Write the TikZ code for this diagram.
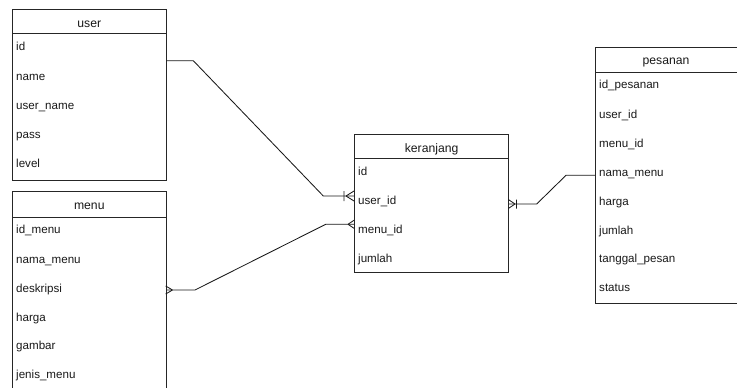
\documentclass[tikz,border=0pt]{standalone}
\usepackage{fontspec}
\setmainfont{Liberation Sans}
\begin{document}
\begin{tikzpicture}[x=1pt,y=-1pt,
  tbl/.style={draw=black!85, line width=0.9pt, inner sep=0pt, anchor=north west},
  hdr/.style={font=\fontsize{12.2}{14}\selectfont, text=black!90, anchor=base, inner sep=0pt},
  fld/.style={font=\fontsize{11.6}{13}\selectfont, text=black!90, anchor=base west, inner sep=0pt},
  conn/.style={draw=black!90, line width=0.85pt}]
\useasboundingbox (0,0) rectangle (737,388);

% user
\node[tbl, minimum width=153.7pt, minimum height=171pt] (user) at (12,9) {};
\draw[draw=black!85, line width=0.9pt] (user.west |- 0,33.7) -- (user.east |- 0,33.7);
\node[hdr] (userh) at (user.north |- 0,27.5) {user};
\node[fld] (u1) at (16,50) {id};
\node[fld] (u2) at (16,80) {name};
\node[fld] (u3) at (16,109.3) {user\_name};
\node[fld] (u4) at (16,138.5) {pass};
\node[fld] (u5) at (16,167.5) {level};

% menu
\node[tbl, minimum width=153.7pt, minimum height=205pt] (menu) at (12,191) {};
\draw[draw=black!85, line width=0.9pt] (menu.west |- 0,217.3) -- (menu.east |- 0,217.3);
\node[hdr] (menuh) at (menu.north |- 0,209) {menu};
\node[fld] (m1) at (16,233.5) {id\_menu};
\node[fld] (m2) at (16,263) {nama\_menu};
\node[fld] (m3) at (16,292.5) {deskripsi};
\node[fld] (m4) at (16,321) {harga};
\node[fld] (m5) at (16,349.5) {gambar};
\node[fld] (m6) at (16,378) {jenis\_menu};

% keranjang
\node[tbl, minimum width=154.3pt, minimum height=138.3pt] (ker) at (354,134) {};
\draw[draw=black!85, line width=0.9pt] (ker.west |- 0,158.7) -- (ker.east |- 0,158.7);
\node[hdr] (kerh) at (ker.north |- 0,152.5) {keranjang};
\node[fld] (k1) at (358,175) {id};
\node[fld] (k2) at (358,204.3) {user\_id};
\node[fld] (k3) at (358,233.6) {menu\_id};
\node[fld] (k4) at (358,262.3) {jumlah};

% pesanan
\node[tbl, minimum width=150pt, minimum height=256pt] (pes) at (595,47.3) {};
\draw[draw=black!85, line width=0.9pt] (pes.west |- 0,72.3) -- (pes.east |- 0,72.3);
\node[hdr] (pesh) at (666,64) {pesanan};
\node[fld] (p1) at (599,88.3) {id\_pesanan};
\node[fld] (p2) at (599,118) {user\_id};
\node[fld] (p3) at (599,147) {menu\_id};
\node[fld] (p4) at (599,176) {nama\_menu};
\node[fld] (p5) at (599,205.3) {harga};
\node[fld] (p6) at (599,234.3) {jumlah};
\node[fld] (p7) at (599,262.5) {tanggal\_pesan};
\node[fld] (p8) at (599,291.3) {status};

% connector user -> keranjang
\coordinate (a1) at (193.3,60.7);
\coordinate (a2) at (323.3,196);
\draw[conn] (user.east |- a1) -- (a1) -- (a2) -- (ker.west |- a2);
\draw[conn] (346,196) -- (354,191) (346,196) -- (354,201) (344,191) -- (344,201);

% connector menu -> keranjang
\coordinate (b1) at (195,290);
\coordinate (b2) at (325.7,224.3);
\draw[conn] (menu.east |- b1) -- (b1) -- (b2) -- (ker.west |- b2);
\draw[conn] (348,224.3) -- (354,220.3) (348,224.3) -- (354,228.3);
\draw[conn] (172.5,290) -- (165.7,286) (172.5,290) -- (165.7,294);

% connector keranjang -> pesanan
\coordinate (c1) at (536.7,204);
\coordinate (c2) at (566,175.3);
\draw[conn] (ker.east |- c1) -- (c1) -- (c2) -- (pes.west |- c2);
\draw[conn] (515,204) -- (508.3,199.5) (515,204) -- (508.3,208.5) (516.5,199.5) -- (516.5,208.5);
\end{tikzpicture}
\end{document}
